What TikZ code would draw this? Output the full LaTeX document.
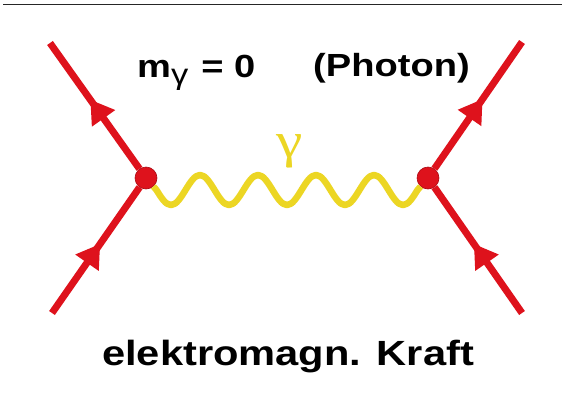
\documentclass[tikz,border=0pt]{standalone}
\usepackage{fontspec}
\setmainfont{Liberation Sans}
\newfontfamily\gammafont{Liberation Serif}
\usetikzlibrary{arrows.meta,decorations.markings}

\definecolor{fermionred}{RGB}{222,18,28}
\definecolor{vertexrim}{RGB}{170,10,20}
\definecolor{photonyellow}{RGB}{236,214,36}

\tikzset{
	fermion/.style={draw=fermionred, line width=7pt, postaction={decorate},
		decoration={markings, mark=at position 0.55 with {\arrow[fermionred]{Triangle[length=23pt,width=27pt]}}}},
	photon/.style={draw=photonyellow, line width=6.5pt, line join=round},
	vertex/.style={circle, fill=fermionred, draw=vertexrim, line width=0.6pt, minimum size=22pt, inner sep=0pt},
	bigtext/.style={font=\bfseries\fontsize{32}{38}\selectfont, inner sep=0pt, xscale=1.19},
	gammalabel/.style={text=photonyellow, font=\gammafont\fontsize{50}{50}\selectfont, inner sep=0pt, xscale=1.19}
}

\begin{document}
\begin{tikzpicture}[x=1pt,y=-1pt]
	\fill[white] (0,0) rectangle (562,399);
	\useasboundingbox (0,0) rectangle (562,399);
	\draw[line width=1.4pt, black!85] (3,4.5) -- (562,4.5);
	
	\node[vertex] (lv) at (146,178) {};
	\node[vertex] (rv) at (428,178) {};
	\coordinate (ul) at (50,43);
	\coordinate (ll) at (52,313);
	\coordinate (ur) at (522,42);
	\coordinate (lr) at (522,313);
	
	\node[bigtext, anchor=base west] (mass) at (137,77) {m\raisebox{-7pt}{\fontsize{29}{29}\selectfont\mdseries γ}\hspace{11pt}= 0};
	\node[bigtext, anchor=base west] (name) at (313,76) {(Photon)};
	\node[gammalabel, anchor=base west] (glabel) at (276,157) {γ};
	\node[bigtext, font=\bfseries\fontsize{35}{40}\selectfont, anchor=base west] (force) at (102,365) {elektromagn. Kraft};
	
	% Photon
	\draw[photon] (lv) -- ++(10.5,12)
		\foreach \k in {1,...,4} {sin ++(14.5,15) cos ++(14.5,-15) sin ++(14.5,-15) cos ++(14.5,15)}
		sin ++(14.5,15) cos ++(14.5,-15) -- (rv);
	
	% Fermions
	\draw[fermion] (ll) -- (lv);
	\draw[fermion] (lv) -- (ul);
	\draw[fermion] (lr) -- (rv);
	\draw[fermion] (rv) -- (ur);
\end{tikzpicture}
\end{document}
